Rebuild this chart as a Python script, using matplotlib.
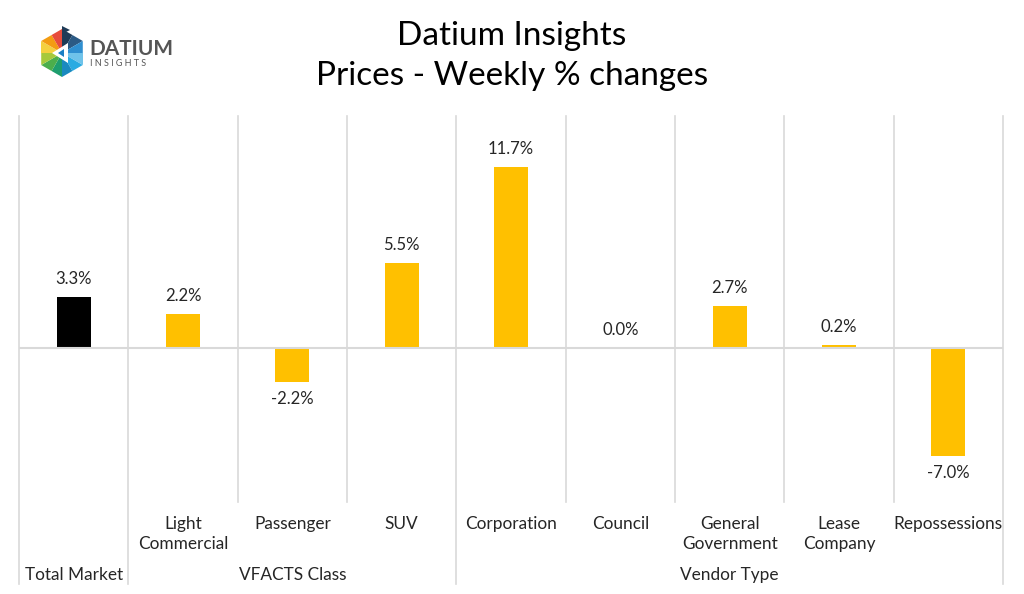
import matplotlib
matplotlib.use("Agg")
import matplotlib.pyplot as plt
import numpy as np
from matplotlib.patches import Polygon
import matplotlib.transforms as mtransforms

categories = ["Total Market", "Light\nCommercial", "Passenger", "SUV", "Corporation",
              "Council", "General\nGovernment", "Lease\nCompany", "Repossessions"]
tick_labels = ["", "Light\nCommercial", "Passenger", "SUV", "Corporation",
               "Council", "General\nGovernment", "Lease\nCompany", "Repossessions"]
values = [3.3, 2.2, -2.2, 5.5, 11.7, 0.0, 2.7, 0.2, -7.0]
labels = ["3.3%", "2.2%", "-2.2%", "5.5%", "11.7%", "0.0%", "2.7%", "0.2%", "-7.0%"]
groups = ["Total Market", "VFACTS Class", "Vendor Type"]
group_spans = [(0, 1), (1, 4), (4, 9)]
bar_colors = ["#000000"] + ["#FFC000"] * 8

plt.rcParams['font.family'] = ['Lato', 'DejaVu Sans']
TXT = "#262626"
GRID = "#d9d9d9"

fig = plt.figure(figsize=(10.24, 5.94), dpi=100)
W, H = 1024, 594
ax = fig.add_axes([19 / W, (H - 502) / H, (1003 - 19) / W, (502 - 116) / H])
ax.set_xlim(0, 9)
ax.set_ylim(-10, 15)
ax.axis('off')

x = np.arange(len(categories)) + 0.5
ax.bar(x, values, width=0.31, color=bar_colors, zorder=2)
ax.axhline(0, color=GRID, lw=1.5, zorder=3)

for xi, v, lab in zip(x, values, labels):
    if v >= 0:
        ax.annotate(lab, (xi, v), xytext=(0, 7), textcoords='offset points',
                    ha='center', va='bottom', fontsize=12, color=TXT)
    else:
        ax.annotate(lab, (xi, v), xytext=(0, -7), textcoords='offset points',
                    ha='center', va='top', fontsize=12, color=TXT)

trans = mtransforms.blended_transform_factory(ax.transData, ax.transAxes)
group_bounds = {0, 1, 4, 9}
for b in range(10):
    ybot = -0.2124 if b in group_bounds else 0.0
    ax.plot([b, b], [ybot, 1.0], color=GRID, lw=1.2, transform=trans,
            clip_on=False, zorder=1)

for xi, c in zip(x, tick_labels):
    ax.text(xi, -0.036, c, transform=trans, ha='center', va='top',
            fontsize=12.4, color=TXT, linespacing=1.3)

for g, (a, b) in zip(groups, group_spans):
    ax.text((a + b) / 2, -0.21, g, transform=trans, ha='center', va='bottom',
            fontsize=12.4, color=TXT)

fig.text(512 / W, 1 - 36 / H, "Datium Insights", ha='center', va='center',
         fontsize=24, color='#000000')
fig.text(512 / W, 1 - 76 / H, "Prices - Weekly % changes", ha='center', va='center',
         fontsize=24, color='#000000')

# logo
lax = fig.add_axes([0, 1 - 110 / H, 250 / W, 110 / H])
lax.set_xlim(0, 250)
lax.set_ylim(110, 0)
lax.axis('off')
cx, cy, r = 62, 53, 24
ang = np.deg2rad(np.arange(6) * 60 - 90)
verts = [(cx + r * np.cos(a), cy + r * np.sin(a)) for a in ang]
sector_colors = [("#1f3b57", "#2b5a85"), ("#2f8fd0", "#6fc3ea"),
                 ("#29abe2", "#1a8ac0"), ("#1e9e6e", "#4cae4c"),
                 ("#a6c93b", "#f4d03f"), ("#f39c12", "#e74c3c")]
for i in range(6):
    p1 = verts[i]
    p2 = verts[(i + 1) % 6]
    mid = ((p1[0] + p2[0]) / 2, (p1[1] + p2[1]) / 2)
    lax.add_patch(Polygon([(cx, cy), p1, mid], closed=True,
                          color=sector_colors[i][0], lw=0))
    lax.add_patch(Polygon([(cx, cy), mid, p2], closed=True,
                          color=sector_colors[i][1], lw=0))
lax.add_patch(Polygon([(cx - 10, cy), (cx + 6, cy - 10), (cx + 6, cy + 10)],
                      closed=True, color='white', lw=0))
lax.add_patch(Polygon([(cx - 4, cy), (cx + 2, cy - 4), (cx + 2, cy + 4)],
                      closed=True, color='#1a7fc4', lw=0))
lax.add_patch(Polygon([(cx, cy - 27), (cx + 8, cy - 23), (cx, cy - 19)],
                      closed=True, color='#1f3b57', lw=0))
lax.text(89, 49, "DATIUM", fontsize=15, color='#555555', va='center', ha='left',
         fontweight='bold')
lax.text(90, 63, "I N S I G H T S", fontsize=6.5, color='#555555', va='center', ha='left')

fig.savefig("out.png", dpi=100, facecolor='white')
